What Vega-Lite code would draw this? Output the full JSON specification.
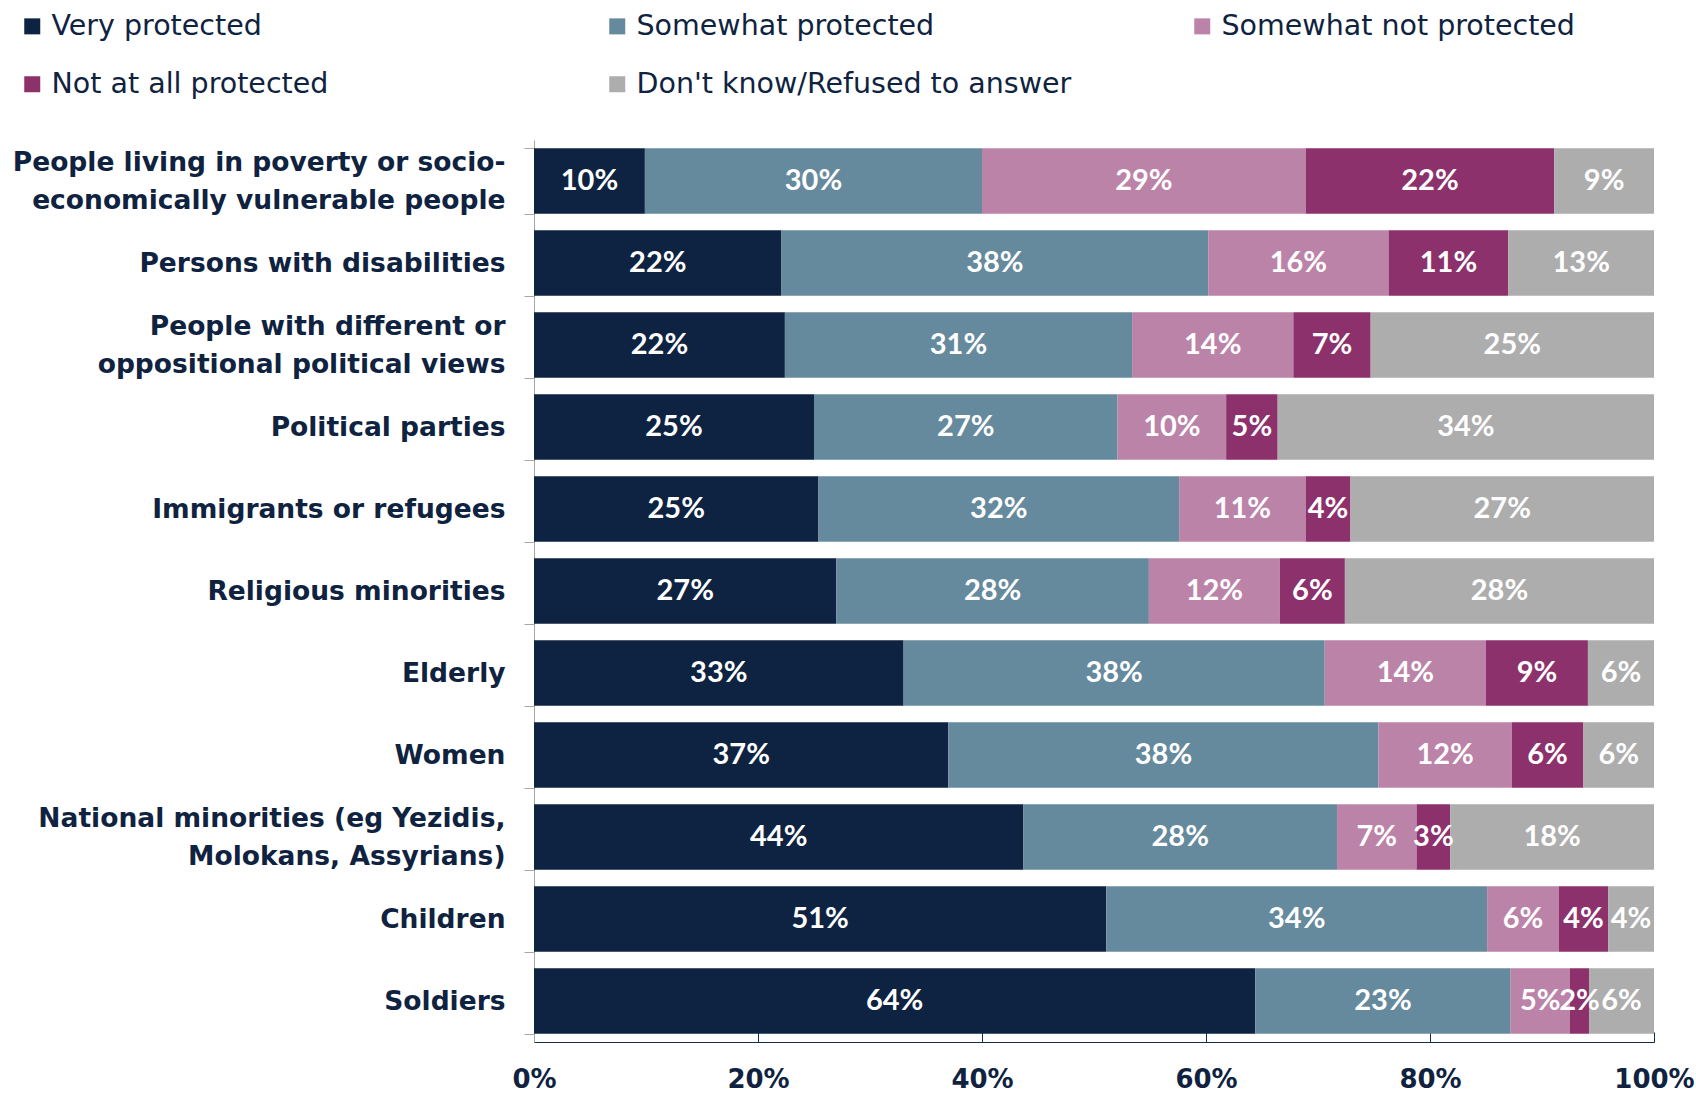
{
  "$schema": "https://vega.github.io/schema/vega-lite/v6.json",
  "width": 1120,
  "height": 902,
  "autosize": {"type": "none"},
  "padding": {"left": 534, "top": 140, "right": 42, "bottom": 51},
  "background": "white",
  "config": {"view": {"stroke": null}, "font": "DejaVu Sans"},
  "data": {
    "values": [
      {"group": "People living in poverty or socio-economically vulnerable people", "answer": "Very protected", "rank": 1, "share": 0.099},
      {"group": "People living in poverty or socio-economically vulnerable people", "answer": "Somewhat protected", "rank": 2, "share": 0.301},
      {"group": "People living in poverty or socio-economically vulnerable people", "answer": "Somewhat not protected", "rank": 3, "share": 0.289},
      {"group": "People living in poverty or socio-economically vulnerable people", "answer": "Not at all protected", "rank": 4, "share": 0.222},
      {"group": "People living in poverty or socio-economically vulnerable people", "answer": "Don't know/Refused to answer", "rank": 5, "share": 0.089},
      {"group": "Persons with disabilities", "answer": "Very protected", "rank": 1, "share": 0.221},
      {"group": "Persons with disabilities", "answer": "Somewhat protected", "rank": 2, "share": 0.381},
      {"group": "Persons with disabilities", "answer": "Somewhat not protected", "rank": 3, "share": 0.161},
      {"group": "Persons with disabilities", "answer": "Not at all protected", "rank": 4, "share": 0.107},
      {"group": "Persons with disabilities", "answer": "Don't know/Refused to answer", "rank": 5, "share": 0.130},
      {"group": "People with different or oppositional political views", "answer": "Very protected", "rank": 1, "share": 0.224},
      {"group": "People with different or oppositional political views", "answer": "Somewhat protected", "rank": 2, "share": 0.310},
      {"group": "People with different or oppositional political views", "answer": "Somewhat not protected", "rank": 3, "share": 0.144},
      {"group": "People with different or oppositional political views", "answer": "Not at all protected", "rank": 4, "share": 0.069},
      {"group": "People with different or oppositional political views", "answer": "Don't know/Refused to answer", "rank": 5, "share": 0.253},
      {"group": "Political parties", "answer": "Very protected", "rank": 1, "share": 0.250},
      {"group": "Political parties", "answer": "Somewhat protected", "rank": 2, "share": 0.271},
      {"group": "Political parties", "answer": "Somewhat not protected", "rank": 3, "share": 0.097},
      {"group": "Political parties", "answer": "Not at all protected", "rank": 4, "share": 0.046},
      {"group": "Political parties", "answer": "Don't know/Refused to answer", "rank": 5, "share": 0.336},
      {"group": "Immigrants or refugees", "answer": "Very protected", "rank": 1, "share": 0.254},
      {"group": "Immigrants or refugees", "answer": "Somewhat protected", "rank": 2, "share": 0.322},
      {"group": "Immigrants or refugees", "answer": "Somewhat not protected", "rank": 3, "share": 0.113},
      {"group": "Immigrants or refugees", "answer": "Not at all protected", "rank": 4, "share": 0.040},
      {"group": "Immigrants or refugees", "answer": "Don't know/Refused to answer", "rank": 5, "share": 0.271},
      {"group": "Religious minorities", "answer": "Very protected", "rank": 1, "share": 0.270},
      {"group": "Religious minorities", "answer": "Somewhat protected", "rank": 2, "share": 0.279},
      {"group": "Religious minorities", "answer": "Somewhat not protected", "rank": 3, "share": 0.117},
      {"group": "Religious minorities", "answer": "Not at all protected", "rank": 4, "share": 0.058},
      {"group": "Religious minorities", "answer": "Don't know/Refused to answer", "rank": 5, "share": 0.276},
      {"group": "Elderly", "answer": "Very protected", "rank": 1, "share": 0.330},
      {"group": "Elderly", "answer": "Somewhat protected", "rank": 2, "share": 0.376},
      {"group": "Elderly", "answer": "Somewhat not protected", "rank": 3, "share": 0.144},
      {"group": "Elderly", "answer": "Not at all protected", "rank": 4, "share": 0.091},
      {"group": "Elderly", "answer": "Don't know/Refused to answer", "rank": 5, "share": 0.059},
      {"group": "Women", "answer": "Very protected", "rank": 1, "share": 0.370},
      {"group": "Women", "answer": "Somewhat protected", "rank": 2, "share": 0.384},
      {"group": "Women", "answer": "Somewhat not protected", "rank": 3, "share": 0.119},
      {"group": "Women", "answer": "Not at all protected", "rank": 4, "share": 0.064},
      {"group": "Women", "answer": "Don't know/Refused to answer", "rank": 5, "share": 0.063},
      {"group": "National minorities (eg Yezidis, Molokans, Assyrians)", "answer": "Very protected", "rank": 1, "share": 0.437},
      {"group": "National minorities (eg Yezidis, Molokans, Assyrians)", "answer": "Somewhat protected", "rank": 2, "share": 0.280},
      {"group": "National minorities (eg Yezidis, Molokans, Assyrians)", "answer": "Somewhat not protected", "rank": 3, "share": 0.071},
      {"group": "National minorities (eg Yezidis, Molokans, Assyrians)", "answer": "Not at all protected", "rank": 4, "share": 0.030},
      {"group": "National minorities (eg Yezidis, Molokans, Assyrians)", "answer": "Don't know/Refused to answer", "rank": 5, "share": 0.182},
      {"group": "Children", "answer": "Very protected", "rank": 1, "share": 0.511},
      {"group": "Children", "answer": "Somewhat protected", "rank": 2, "share": 0.340},
      {"group": "Children", "answer": "Somewhat not protected", "rank": 3, "share": 0.064},
      {"group": "Children", "answer": "Not at all protected", "rank": 4, "share": 0.044},
      {"group": "Children", "answer": "Don't know/Refused to answer", "rank": 5, "share": 0.041},
      {"group": "Soldiers", "answer": "Very protected", "rank": 1, "share": 0.644},
      {"group": "Soldiers", "answer": "Somewhat protected", "rank": 2, "share": 0.228},
      {"group": "Soldiers", "answer": "Somewhat not protected", "rank": 3, "share": 0.053},
      {"group": "Soldiers", "answer": "Not at all protected", "rank": 4, "share": 0.017},
      {"group": "Soldiers", "answer": "Don't know/Refused to answer", "rank": 5, "share": 0.058}
    ]
  },
  "encoding": {
    "y": {
      "field": "group",
      "type": "nominal",
      "sort": [
        "People living in poverty or socio-economically vulnerable people",
        "Persons with disabilities",
        "People with different or oppositional political views",
        "Political parties",
        "Immigrants or refugees",
        "Religious minorities",
        "Elderly",
        "Women",
        "National minorities (eg Yezidis, Molokans, Assyrians)",
        "Children",
        "Soldiers"
      ],
      "scale": {"paddingInner": 0.2, "paddingOuter": 0.1},
      "axis": {
        "title": null,
        "labelFont": "DejaVu Sans",
        "labelFontSize": 26.5,
        "labelFontWeight": "bold",
        "labelColor": "#0f2340",
        "labelLineHeight": 38,
        "labelLimit": 0,
        "labelPadding": 19,
        "labelOffset": {
          "condition": {
            "test": "indexof(datum.label, 'socio-') >= 0 || indexof(datum.label, 'different or') >= 0 || indexof(datum.label, 'Yezidis') >= 0",
            "value": -19
          },
          "value": 0
        },
        "tickSize": 10,
        "tickColor": "#a6a6a6",
        "domainColor": "#a6a6a6",
        "tickBand": "extent",
        "labelExpr": "split(replace(replace(replace(datum.label, 'socio-', 'socio-|'), 'different or ', 'different or|'), 'Yezidis, ', 'Yezidis,|'), '|')"
      }
    },
    "x": {
      "field": "share",
      "type": "quantitative",
      "stack": "zero",
      "scale": {"domain": [0, 1], "nice": false},
      "axis": {
        "title": null,
        "format": ".0%",
        "values": [0, 0.2, 0.4, 0.6, 0.8, 1],
        "grid": false,
        "labelFont": "DejaVu Sans",
        "labelFontSize": 26,
        "labelFontWeight": "bold",
        "labelColor": "#0f2340",
        "labelFlush": false,
        "labelPadding": 34,
        "tickSize": -10,
        "tickColor": "#1c2b45",
        "domainColor": "#1c2b45"
      }
    },
    "order": {"field": "rank", "type": "quantitative"}
  },
  "layer": [
    {
      "mark": {"type": "bar"},
      "encoding": {
        "color": {
          "field": "answer",
          "type": "nominal",
          "scale": {
            "domain": ["Very protected", "Somewhat protected", "Somewhat not protected", "Not at all protected", "Don't know/Refused to answer"],
            "range": ["#0e2341", "#668a9d", "#bc83a9", "#8c316c", "#adadae"]
          },
          "legend": {
            "title": null,
            "orient": "none",
            "legendX": -516,
            "legendY": -128,
            "direction": "horizontal",
            "columns": 3,
            "gridAlign": "all",
            "columnPadding": 116,
            "rowPadding": 29,
            "symbolType": "square",
            "symbolSize": 256,
            "symbolStrokeWidth": 0,
            "labelFont": "DejaVu Sans",
            "labelFontSize": 28.5,
            "labelColor": "#0f2340",
            "labelOffset": 5,
            "labelLimit": 0
          }
        }
      }
    },
    {
      "mark": {"type": "text", "color": "white", "font": "Lato", "fontWeight": "bold", "fontSize": 29, "baseline": "middle", "align": "center"},
      "encoding": {
        "x": {"field": "share", "type": "quantitative", "stack": "zero", "bandPosition": 0.5},
        "detail": {"field": "answer", "type": "nominal"},
        "text": {"field": "share", "type": "quantitative", "format": ".0%"}
      }
    }
  ]
}
